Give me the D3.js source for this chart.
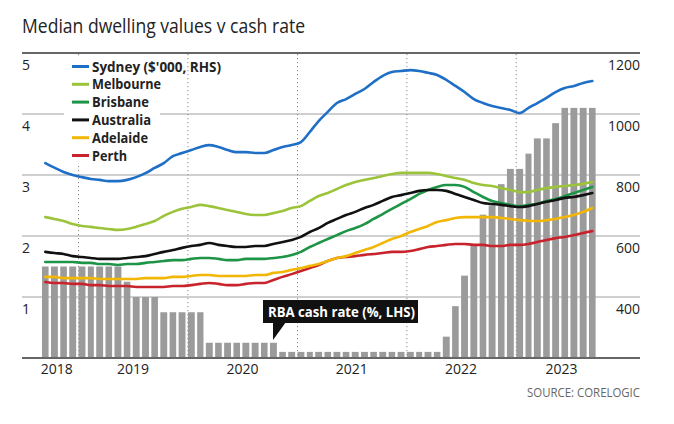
<!DOCTYPE html>
<html><head><meta charset="utf-8">
<script src="https://cdn.jsdelivr.net/npm/d3@7"></script>
<style>body{margin:0;background:#fff}svg{display:block}</style>
</head><body><svg id="c" width="674" height="424"></svg>
<script>
// ---- data ----
const firstMonth = "2018-09-01";
const lastMonth = "2023-09-01";
const cashRate = [1.5,1.5,1.5,1.5,1.5,1.5,1.5,1.5,1.5,1.25,1,1,1,0.75,0.75,0.75,0.75,0.75,
  0.25,0.25,0.25,0.25,0.25,0.25,0.25,0.25,
  0.1,0.1,0.1,0.1,0.1,0.1,0.1,0.1,0.1,0.1,0.1,0.1,0.1,0.1,0.1,0.1,0.1,0.1,
  0.35,0.85,1.35,1.85,2.35,2.5,2.85,3.1,3.1,3.35,3.6,3.6,3.85,4.1,4.1,4.1,4.1];
const sydney = [839,824,810,800,793,787,784,780,780,784,793,806,823,839,862,872,882,892,898,892,
  882,875,875,872,872,882,892,898,908,941,977,1007,1036,1049,1066,1082,1105,1125,1138,1141,
  1144,1141,1135,1128,1112,1092,1072,1049,1036,1026,1020,1013,1003,1020,1036,1053,1072,1085,1092,1102,1108];
const melbourne = [662,656,649,639,633,630,626,623,620,623,630,639,649,666,679,689,695,702,698,692,
  685,679,672,669,669,675,682,692,698,715,731,741,754,767,777,784,790,797,803,807,
  807,807,807,803,797,790,784,774,767,764,757,751,744,744,751,757,761,764,767,771,777];
const brisbane = [515,515,515,515,512,512,508,508,505,508,508,512,515,518,521,521,525,528,528,525,
  521,521,525,525,525,528,531,538,548,564,577,590,603,616,626,639,656,672,689,705,
  721,738,751,761,767,767,761,744,728,715,708,702,698,702,705,715,721,731,741,751,761];
const australia = [548,544,541,534,531,528,525,525,525,528,531,534,541,548,554,561,567,571,577,571,
  567,564,564,567,567,574,580,587,597,613,626,643,656,669,679,692,702,715,728,734,
  741,748,751,751,748,738,728,718,708,705,702,698,695,698,705,712,718,725,728,734,741];
const adelaide = [466,466,462,462,462,462,459,459,459,459,459,462,462,462,466,466,469,472,472,469,
  469,469,469,472,472,479,482,489,495,502,508,518,528,534,544,554,564,577,590,600,
  613,623,633,646,652,659,662,662,662,662,659,656,652,650,649,652,656,662,669,679,692];
const perth = [449,446,446,443,443,439,439,436,436,436,433,433,433,433,436,436,439,443,446,443,
  439,439,443,446,446,456,466,475,485,495,505,518,528,531,534,538,541,544,548,548,
  551,557,564,567,571,574,574,571,571,567,567,571,571,574,580,587,593,597,603,610,616];
const seriesNames = ["Sydney ($'000, RHS)","Melbourne","Brisbane","Australia","Adelaide","Perth"];
const seriesColors = ["#1f6fc6","#9cc43a","#1e9447","#111111","#f2b705","#c8232c"];
const leftTicks = [1,2,3,4,5];
const rightTicks = [400,600,800,1000,1200];
const yearLabels = ["2018","2019","2020","2021","2022","2023"];
const yearLabelDates = ["2018-10-20","2019-07-02","2020-07-01","2021-07-01","2022-07-01","2023-06-01"];
const yearStarts = ["2019-01-01","2020-01-01","2021-01-01","2022-01-01","2023-01-01"];

// ---- chart ----
const svg = d3.select("#c");
const F = "'Open Sans', 'Noto Sans', sans-serif";
const parse = d3.utcParse("%Y-%m-%d");
const months = d3.utcMonth.range(parse(firstMonth), d3.utcMonth.offset(parse(lastMonth),1));
const x = d3.scaleUtc().domain([parse(firstMonth), d3.utcMonth.offset(parse(lastMonth),1)]).range([42, 598]);
const yL = d3.scaleLinear().domain([0,5]).range([358,53]);
const yR = d3.scaleLinear().domain([200,1200]).range([358,53]);
const X0 = 22, X1 = 640;

// title
svg.append("text").attr("x",X0).attr("y",33).attr("font-family",F).attr("font-size",20)
  .attr("fill","#222").attr("textLength",283).attr("lengthAdjust","spacingAndGlyphs")
  .text("Median dwelling values v cash rate");

// gridlines
svg.append("g").selectAll("line").data(leftTicks.slice(0,4)).join("line")
  .attr("x1",X0).attr("x2",X1).attr("y1",d=>yL(d)).attr("y2",d=>yL(d))
  .attr("stroke","#a0a0a0").attr("stroke-width",1);
svg.append("line").attr("x1",X0).attr("x2",X1).attr("y1",yL(5)).attr("y2",yL(5))
  .attr("stroke","#333").attr("stroke-width",1.6);

// dotted year lines
svg.append("g").selectAll("line").data(yearStarts).join("line")
  .attr("x1",d=>x(parse(d))).attr("x2",d=>x(parse(d)))
  .attr("y1",yL(5)+1).attr("y2",yL(0))
  .attr("stroke","#888").attr("stroke-width",1).attr("stroke-dasharray","1.2,2.8");

// bars
const barData = months.map((m,i)=>({m, v:cashRate[i]}));
svg.append("g").selectAll("rect").data(barData).join("rect")
  .attr("x",d=>x(d.m))
  .attr("width",d=>x(d3.utcMonth.offset(d.m,1))-x(d.m)-2.4)
  .attr("y",d=>yL(d.v)).attr("height",d=>yL(0)-yL(d.v))
  .attr("fill","#9b9b9b");

// baseline
svg.append("line").attr("x1",X0).attr("x2",X1).attr("y1",yL(0)).attr("y2",yL(0))
  .attr("stroke","#666").attr("stroke-width",1.8);

// lines
const allSeries = [sydney,melbourne,brisbane,australia,adelaide,perth];
const midX = d => x(d.m) + (x(d3.utcMonth.offset(d.m,1))-x(d.m)-2.4)/2;
const lineGen = d3.line().x(midX).y(d=>yR(d.v)).curve(d3.curveMonotoneX);
const drawOrder = [5,4,2,3,1,0];
drawOrder.forEach(k=>{
  const data = months.map((m,i)=>({m, v:allSeries[k][i]}));
  svg.append("path").datum(data).attr("d",lineGen).attr("fill","none")
    .attr("stroke",seriesColors[k]).attr("stroke-width",2.6)
    .attr("stroke-linejoin","round").attr("stroke-linecap","round");
});

// legend
const lg = svg.append("g");
lg.append("rect").attr("x",64).attr("y",57).attr("width",96).attr("height",106).attr("fill","#fff");
const legendWidths = [129,69,57,59,56,35];
seriesNames.forEach((n,i)=>{
  const by = 71.5 + i*17.8;
  lg.append("line").attr("x1",72).attr("x2",89).attr("y1",by-5).attr("y2",by-5)
    .attr("stroke",seriesColors[i]).attr("stroke-width",3);
  lg.append("text").attr("x",92).attr("y",by).attr("font-family",F).attr("font-weight",700)
    .attr("font-size",14).attr("fill","#222")
    .attr("textLength",legendWidths[i]).attr("lengthAdjust","spacingAndGlyphs").text(n);
});

// annotation
const an = svg.append("g");
an.append("rect").attr("x",263).attr("y",300).attr("width",155).attr("height",23).attr("fill","#111");
an.append("path").attr("d","M273,322 L286,322 L273,340 Z").attr("fill","#111");
an.append("text").attr("x",268).attr("y",317).attr("font-family",F).attr("font-weight",700)
  .attr("font-size",14).attr("fill","#fff").attr("textLength",147).attr("lengthAdjust","spacingAndGlyphs")
  .text("RBA cash rate (%, LHS)");

// left axis labels
svg.append("g").selectAll("text").data(leftTicks).join("text")
  .attr("x",X0).attr("y",d=>yL(d)+17).attr("font-family",F).attr("font-size",14).attr("fill","#222")
  .text(d=>d);
// right axis labels
svg.append("g").selectAll("text").data(rightTicks).join("text")
  .attr("x",X1).attr("y",d=>yR(d)+17).attr("text-anchor","end").attr("font-family",F)
  .attr("font-size",14).attr("fill","#222").text(d=>d);
// x labels
svg.append("g").selectAll("text").data(yearLabels).join("text")
  .attr("x",(d,i)=>x(parse(yearLabelDates[i]))).attr("y",374).attr("text-anchor","middle")
  .attr("font-family",F).attr("font-size",14).attr("fill","#222").text(d=>d);

// source
svg.append("text").attr("x",X1).attr("y",397).attr("text-anchor","end").attr("font-family",F)
  .attr("font-size",13).attr("fill","#666").attr("textLength",113).attr("lengthAdjust","spacingAndGlyphs")
  .text("SOURCE: CORELOGIC");
</script></body></html>
